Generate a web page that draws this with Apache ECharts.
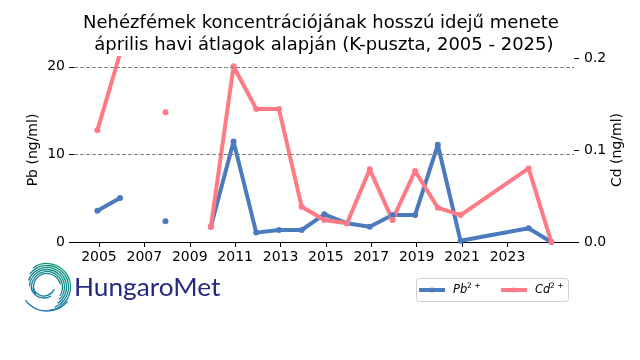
<!DOCTYPE html>
<html><head><meta charset="utf-8">
<style>html,body{margin:0;padding:0;background:#fff}#c{width:640px;height:360px}</style>
<script src="https://cdn.jsdelivr.net/npm/echarts@6/dist/echarts.min.js"></script>
</head><body><div id="c"></div>
<script>
const titleText = 'Nehézfémek koncentrációjának hosszú idejű menete\n április havi átlagok alapján (K-puszta, 2005 - 2025)';
const pointYears = [2004.93,2005.93,2006.93,2007.93,2008.93,2009.93,2010.93,2011.93,2012.93,2013.93,2014.93,2015.93,2016.93,2017.93,2018.93,2019.93,2020.93,2023.93,2024.93];
const pbValues = [3.58,5.03,null,2.36,null,1.75,11.47,1.07,1.37,1.37,3.16,2.13,1.75,3.09,3.09,11.09,0.15,1.57,0];
const cdValues = [0.1214,0.205,null,0.141,null,0.0166,0.191,0.1446,0.1446,0.0384,0.0239,0.0203,0.079,0.024,0.0772,0.0373,0.0293,0.08,0];
const xTicks = [2005,2007,2009,2011,2013,2015,2017,2019,2021,2023];
const leftTicks = [0,10,20];
const rightTicks = [0,0.1,0.2];
const pbColor = '#4c7bbd', cdColor = '#ff7a85';
const rows = a => pointYears.map((y,i)=>[y,a[i]]);
const chart = echarts.init(document.getElementById('c'),null,{renderer:'canvas'});
const font = 'DejaVu Sans';
const logoStroke = {type:'linear',global:true,x:30,y:308,x2:62,y2:266,
  colorStops:[{offset:0,color:'#1b6fb5'},{offset:0.5,color:'#167f9c'},{offset:1,color:'#0f9c72'}]};
const cx=47, cy=287;
const ringSpec = [
  [cx,cy,23.5,-2.2,1.5],[cx,cy,21.5,-2.5,1.2],[cx,cy,19.5,-2.8,1.0],[cx,cy,17.5,-3.1,0.8],
  [cx,cy,15.5,-3.4,0.6],[cx,cy,13.5,-3.7,-0.2],
  [44,285,11,0.4,2.9],[44,285,13,1.0,3.0],[cx,284,27,0.7,2.5]
];
const rings = ringSpec.map(r=>({type:'arc',silent:true,
  shape:{cx:r[0],cy:r[1],r:r[2],startAngle:r[3],endAngle:r[4],clockwise:true},
  style:{fill:'none',stroke:logoStroke,lineWidth:1.3}}));
chart.setOption({
  animation:false,
  backgroundColor:'#fff',
  textStyle:{fontFamily:font},
  title:{text:titleText,left:316,textAlign:'center',top:7,
    textStyle:{fontFamily:font,fontWeight:'normal',fontSize:18,color:'#000',lineHeight:22.5}},
  grid:{left:74,right:66,top:58,bottom:118,containLabel:false},
  legend:{show:false},
  xAxis:{type:'value',min:2003.9,max:2025.93,
    axisLine:{show:true,onZero:false,lineStyle:{color:'#000',width:1}},
    axisTick:{show:true,length:5,customValues:xTicks,lineStyle:{color:'#000'}},
    axisLabel:{customValues:xTicks,color:'#000',fontSize:14,margin:8,fontFamily:font,formatter:v=>String(v)},
    splitLine:{show:false}},
  yAxis:[
    {type:'value',min:0,max:21,position:'left',name:'Pb (ng/ml)',nameLocation:'middle',nameGap:34,nameMoveOverlap:false,
     nameTextStyle:{color:'#000',fontSize:14,fontFamily:font},
     axisLine:{show:false},axisTick:{show:true,length:5,customValues:leftTicks,lineStyle:{color:'#000'}},
     axisLabel:{customValues:leftTicks,color:'#000',fontSize:14,margin:9,padding:[3,0,0,0],fontFamily:font},
     splitLine:{show:false}},
    {type:'value',min:0,max:0.2,position:'right',name:'Cd (ng/ml)',nameLocation:'middle',nameGap:36,nameMoveOverlap:false,
     nameTextStyle:{color:'#000',fontSize:14,fontFamily:font},
     axisLine:{show:false},axisTick:{show:true,length:5,customValues:rightTicks,lineStyle:{color:'#000'}},
     axisLabel:{customValues:rightTicks,color:'#000',fontSize:14,margin:10,padding:[3,0,0,0],fontFamily:font,formatter:v=>v.toFixed(1)},
     splitLine:{show:false}}
  ],
  series:[
    {name:'Pb',type:'line',yAxisIndex:0,data:rows(pbValues),connectNulls:false,showAllSymbol:true,symbol:'circle',symbolSize:6,clip:true,
     lineStyle:{color:pbColor,width:4,join:'round'},itemStyle:{color:pbColor},
     markLine:{silent:true,symbol:'none',label:{show:false},animation:false,
       lineStyle:{color:'#808080',type:[4,2],width:1},data:[{yAxis:10},{yAxis:20}]}},
    {name:'Cd',type:'line',yAxisIndex:1,data:rows(cdValues),connectNulls:false,showAllSymbol:true,symbol:'circle',symbolSize:6,clip:true,
     lineStyle:{color:cdColor,width:4,join:'round'},itemStyle:{color:cdColor}}
  ],
  graphic:[
    ...rings,
    {type:'text',silent:true,x:74,y:275,scaleX:1.05,style:{text:'HungaroMet',fontFamily:'Lato',fontSize:25,fontWeight:400,fill:'#252a80'}},
    {type:'rect',silent:true,shape:{x:416.5,y:278.5,width:152,height:23,r:3},style:{fill:'#fff',stroke:'#d0d0d0',lineWidth:1}},
    {type:'line',silent:true,shape:{x1:419,y1:290,x2:445,y2:290},style:{stroke:pbColor,lineWidth:4}},
    {type:'circle',silent:true,shape:{cx:432,cy:290,r:2.5},style:{fill:pbColor}},
    {type:'line',silent:true,shape:{x1:501,y1:290,x2:527,y2:290},style:{stroke:cdColor,lineWidth:4}},
    {type:'circle',silent:true,shape:{cx:514,cy:290,r:2.5},style:{fill:cdColor}},
    {type:'text',silent:true,x:453,y:284,style:{text:'Pb',fontFamily:font,fontStyle:'italic',fontSize:11.5,fill:'#000'}},
    {type:'text',silent:true,x:467,y:282,style:{text:'2 +',fontFamily:font,fontSize:7.5,fill:'#000'}},
    {type:'text',silent:true,x:535,y:284,style:{text:'Cd',fontFamily:font,fontStyle:'italic',fontSize:11.5,fill:'#000'}},
    {type:'text',silent:true,x:550,y:282,style:{text:'2 +',fontFamily:font,fontSize:7.5,fill:'#000'}}
  ]
});
</script></body></html>
